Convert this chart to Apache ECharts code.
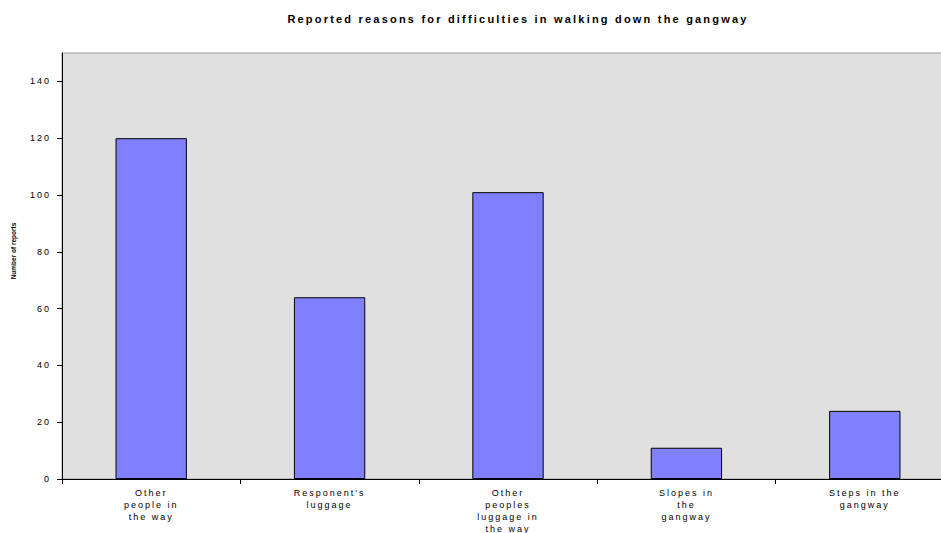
<!DOCTYPE html>
<html>
<head>
<meta charset="utf-8">
<script src="https://cdn.jsdelivr.net/npm/echarts@6/dist/echarts.min.js"></script>
<style>
html,body{margin:0;padding:0;background:#fff;}
#chart{width:941px;height:533px;}
#chart text.spaced{letter-spacing:2px;}
#chart text.spaced-title{letter-spacing:2.2px;}
</style>
</head>
<body>
<div id="chart"></div>
<script>
// Reasons reported for difficulty walking down the gangway
const titleText = 'Reported reasons for difficulties in walking down the gangway';
const categories = [
  'Other\npeople in\nthe way',
  "Responent's\nluggage",
  'Other\npeoples\nluggage in\nthe way',
  'Slopes in\nthe\ngangway',
  'Steps in the\ngangway'
];
const reports = [120, 64, 101, 11, 24];
const yTicks = [0, 20, 40, 60, 80, 100, 120, 140];
const yAxisName = 'Number of reports';

const FONT = 'Liberation Sans, Arial, sans-serif';

const chart = echarts.init(document.getElementById('chart'), null, { renderer: 'svg' });
chart.setOption({
  animation: false,
  title: {
    text: titleText,
    left: 513,
    textAlign: 'center',
    top: 8,
    textStyle: { fontFamily: FONT, fontWeight: 'bold', fontSize: 11, color: '#000' }
  },
  grid: {
    // the plot runs a little past the right edge of the page
    left: 62, right: -13, top: 53, bottom: 54,
    outerBoundsMode: 'none',
    show: true, backgroundColor: '#E0E0E0', borderColor: '#999', borderWidth: 1
  },
  xAxis: {
    type: 'category',
    data: categories,
    axisLine: { lineStyle: { color: '#000', width: 1 } },
    axisTick: { show: true, length: 5, lineStyle: { color: '#000' } },
    axisLabel: {
      interval: 0, margin: 8, lineHeight: 12,
      fontFamily: FONT, fontSize: 9, color: '#000'
    }
  },
  yAxis: {
    type: 'value',
    min: 0, max: 150, interval: 20,
    name: yAxisName,
    nameLocation: 'middle',
    nameGap: 45,
    nameTextStyle: {
      fontFamily: FONT, fontWeight: 'bold', fontSize: 6.5, color: '#000',
      padding: [0, 0, 0, 30]
    },
    splitLine: { show: false },
    axisLine: { show: true, lineStyle: { color: '#000', width: 1 } },
    axisTick: { show: true, length: 5, lineStyle: { color: '#000' }, customValues: yTicks },
    axisLabel: {
      customValues: yTicks, margin: 11,
      fontFamily: FONT, fontSize: 9, color: '#000'
    }
  },
  series: [{
    type: 'bar',
    data: reports,
    barWidth: '40%',
    itemStyle: { color: '#8080FF', borderColor: '#000', borderWidth: 1 }
  }]
});

// Widen the tracking of the title and tick labels; the axis name stays tight
function spaceLabels() {
  document.querySelectorAll('#chart svg text').forEach(function (t) {
    const s = t.textContent;
    if (s === titleText) t.classList.add('spaced-title');
    else if (s !== yAxisName) t.classList.add('spaced');
  });
}
chart.on('finished', spaceLabels);
spaceLabels();
</script>
</body>
</html>
